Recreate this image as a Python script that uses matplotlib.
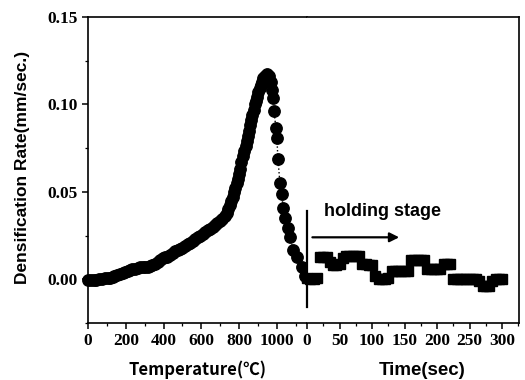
import matplotlib
matplotlib.use('Agg')
import matplotlib.pyplot as plt
from matplotlib.ticker import MultipleLocator

# heating stage: densification rate vs temperature (rising, then falling)
temp_c = [0, 15, 30, 45, 60, 75, 90, 105, 115, 130, 140, 155, 170, 185, 195,
          210, 220, 235, 250, 265, 275, 290, 300, 315, 330, 340, 355, 370,
          380, 395, 405, 420, 435, 450, 460, 475, 485, 500, 515, 530, 540,
          555, 565, 580, 595, 610, 620, 635, 645, 660, 670, 685, 700, 710,
          725, 735, 740, 750, 758, 765, 772, 780, 788, 795, 800, 805, 812,
          820, 828, 835, 840, 845, 850, 855, 862, 870, 877, 885, 890, 895,
          902, 910, 915, 920, 928, 935, 945,
          958, 968, 974, 979, 984, 995, 1000, 1005, 1016, 1026, 1032, 1042,
          1058, 1069, 1085, 1106, 1132, 1148]
rate_heat = [-0.0005, -0.0005, -0.0005, -0.0003, 0.0, 0.0003, 0.0006, 0.0008,
             0.001, 0.0015, 0.002, 0.0025, 0.003, 0.0035, 0.004, 0.005,
             0.0055, 0.006, 0.006, 0.0065, 0.007, 0.007, 0.007, 0.0072,
             0.0075, 0.008, 0.009, 0.010, 0.011, 0.012, 0.0125, 0.013, 0.014,
             0.015, 0.016, 0.017, 0.0175, 0.018, 0.019, 0.020, 0.021, 0.022,
             0.023, 0.024, 0.0245, 0.026, 0.027, 0.028, 0.0285, 0.030, 0.031,
             0.032, 0.0335, 0.0345, 0.036, 0.038, 0.040, 0.0425, 0.045, 0.047,
             0.050, 0.052, 0.055, 0.0575, 0.060, 0.063, 0.067, 0.0705, 0.0735,
             0.0765, 0.079, 0.082, 0.085, 0.088, 0.091, 0.094, 0.097, 0.100,
             0.102, 0.1045, 0.107, 0.1095, 0.111, 0.113, 0.115, 0.1165, 0.1175,
             0.1165, 0.113, 0.1085, 0.1035, 0.096, 0.0865, 0.081, 0.069,
             0.055, 0.049, 0.041, 0.035, 0.0295, 0.024, 0.0165, 0.0125,
             0.007, 0.002]

# holding stage: densification rate vs time
time_s = [0, 5, 10, 15, 20, 25, 30, 35, 40, 45, 50, 55, 60, 65, 70, 75, 80,
          85, 90, 95, 100, 105, 110, 115, 120, 125, 130, 135, 140, 145, 150,
          155, 160, 165, 170, 175, 180, 185, 190, 195, 200, 205, 210, 215,
          220, 225, 230, 235, 240, 245, 250, 255, 260, 265, 270, 275, 280,
          285, 290, 295, 300]
rate_hold = [0.001, 0.000, 0.000, 0.001, 0.013, 0.013, 0.013, 0.010, 0.008,
             0.008, 0.009, 0.012, 0.0135, 0.0135, 0.0135, 0.0135, 0.0135,
             0.009, 0.009, 0.008, 0.008, 0.002, 0.000, 0.000, 0.000, 0.001,
             0.0045, 0.0045, 0.0045, 0.0045, 0.0045, 0.0045, 0.011, 0.011,
             0.011, 0.011, 0.011, 0.0057, 0.0057, 0.0057, 0.0057, 0.0057,
             0.0085, 0.0085, 0.0085, 0.000, 0.000, 0.000, 0.000, 0.000,
             0.000, 0.000, 0.000, -0.001, -0.004, -0.004, -0.004, -0.001,
             0.000, 0.000, 0.000]

temp_ticks = [0, 200, 400, 600, 800, 1000]
time_ticks = [0, 50, 100, 150, 200, 250, 300]
rate_ticks = [0.00, 0.05, 0.10, 0.15]

serif = {'family': 'Liberation Serif', 'weight': 'bold', 'size': 12.5}
narrow = ['Liberation Sans Narrow', 'Liberation Sans']

fig = plt.figure(figsize=(5.25, 3.8), dpi=100)
ax1 = fig.add_axes([0.1676, 0.15, 0.4171, 0.8053])
ax2 = fig.add_axes([0.5848, 0.15, 0.4038, 0.8053], sharey=ax1)

ax1.plot(temp_c, rate_heat, 'o:', color='black', ms=8.2, lw=1, clip_on=False)
ax2.plot(time_s, rate_hold, 's', color='black', ms=7.6, clip_on=False)

ax1.set_xlim(0, 1159)
ax2.set_xlim(0, 326)
ax1.set_ylim(-0.025, 0.15)

ax1.set_xticks(temp_ticks)
ax1.xaxis.set_minor_locator(MultipleLocator(100))
ax2.set_xticks(time_ticks)
ax2.xaxis.set_minor_locator(MultipleLocator(25))
ax1.set_yticks(rate_ticks)
ax1.set_yticklabels([f'{v:.2f}' for v in rate_ticks])
ax1.yaxis.set_minor_locator(MultipleLocator(0.025))

for ax in (ax1, ax2):
    for s in ax.spines.values():
        s.set_linewidth(1.2)
    ax.tick_params(which='major', direction='out', length=4, width=1.1)
    ax.tick_params(which='minor', direction='out', length=2.5, width=0.9)
    for lab in ax.get_xticklabels() + ax.get_yticklabels():
        lab.set_fontproperties(serif)
ax1.spines['right'].set_visible(False)
ax2.spines['left'].set_visible(False)
ax2.tick_params(axis='y', which='both', left=False, labelleft=False)
ax1.tick_params(axis='x', pad=3)
ax2.tick_params(axis='x', pad=3)

# boundary between heating and holding
ax2.plot([0, 0], [-0.016, 0.039], color='black', lw=1.6, clip_on=False)
ax2.annotate('', xy=(146, 0.024), xytext=(4, 0.024),
             arrowprops=dict(arrowstyle='-|>', color='black', lw=1.6,
                             mutation_scale=14))
ax2.text(26, 0.039, 'holding stage', family=narrow, weight='bold',
         fontsize=13, va='center', ha='left')

fig.text(0.042, 0.56, 'Densification Rate(mm/sec.)', family=narrow,
         weight='bold', fontsize=12.5, rotation=90, ha='center', va='center')
fig.text(0.377, 0.026, 'Temperature(℃)', family=['Noto Sans CJK KR', 'DejaVu Sans'],
         weight='bold', fontsize=12, ha='center', va='center')
fig.text(0.804, 0.026, 'Time(sec)', family=narrow, weight='bold',
         fontsize=13.5, ha='center', va='center')

fig.savefig('out.png', dpi=100)
